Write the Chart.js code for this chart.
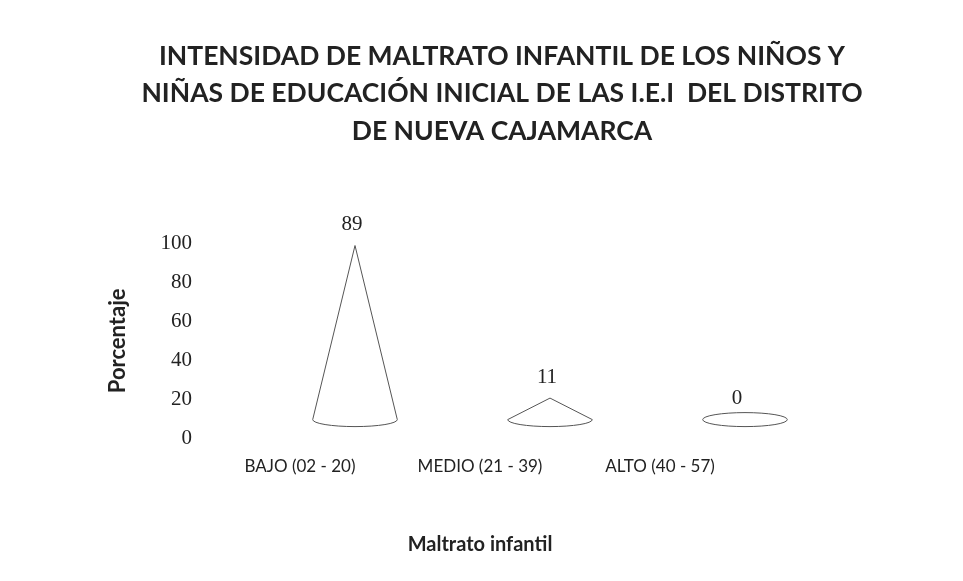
<!DOCTYPE html>
<html lang="es">
<head>
<meta charset="UTF-8">
<title>Intensidad de maltrato infantil</title>
<style>
    body { margin: 0; background: #fff; }
    #wrap { width: 963px; height: 581px; }
</style>
</head>
<body>
<div id="wrap"><canvas id="chart" width="963" height="581"></canvas></div>
<script src="https://cdn.jsdelivr.net/npm/chart.js"></script>
<script>
const categories = ['BAJO (02 - 20)', 'MEDIO (21 - 39)', 'ALTO (40 - 57)'];
const porcentaje = [89, 11, 0];
const yTicks = [0, 20, 40, 60, 80, 100];

const titleLines = [
    'INTENSIDAD DE MALTRATO INFANTIL DE LOS NIÑOS Y',
    'NIÑAS DE EDUCACIÓN INICIAL DE LAS I.E.I  DEL DISTRITO',
    'DE NUEVA CAJAMARCA'
];

// title is centred on the page, not on the plot, so draw it by hand
const titlePlugin = {
    id: 'pageTitle',
    afterDraw(chart) {
        const ctx = chart.ctx;
        ctx.save();
        ctx.fillStyle = '#222';
        ctx.font = 'bold 26.5px Lato';
        ctx.textAlign = 'center';
        ctx.textBaseline = 'middle';
        titleLines.forEach((t, i) => ctx.fillText(t, 502, 56 + i * 37.5));
        ctx.restore();
    }
};

// cones drawn on top of (invisible) bars, shifted like a 3D depth
const conePlugin = {
    id: 'cones',
    afterDatasetsDraw(chart) {
        const ctx = chart.ctx;
        const meta = chart.getDatasetMeta(0);
        const dy = -19, ry = 7;
        ctx.save();
        meta.data.forEach((bar, i) => {
            const p = bar.getProps(['x', 'y', 'base', 'width'], true);
            const dx = 55 + i * 15;
            const cx = p.x + dx;
            const by = p.base + dy;
            const ay = p.y + dy;
            const rx = p.width / 2;
            ctx.lineWidth = 1;
            ctx.strokeStyle = '#555';
            ctx.fillStyle = '#fff';
            if (by - ay > ry + 2) {
                ctx.beginPath();
                ctx.moveTo(cx - rx, by);
                ctx.lineTo(cx, ay);
                ctx.lineTo(cx + rx, by);
                ctx.ellipse(cx, by, rx, ry, 0, 0, Math.PI, false);
                ctx.closePath();
                ctx.fill();
                ctx.stroke();
            } else {
                ctx.beginPath();
                ctx.ellipse(cx, by, rx, ry, 0, 0, Math.PI * 2);
                ctx.fill();
                ctx.stroke();
            }
            ctx.fillStyle = '#222';
            ctx.font = '21px "Liberation Serif"';
            ctx.textAlign = 'center';
            ctx.textBaseline = 'middle';
            const lx = porcentaje[i] === 0 ? cx - 8 : cx - 3;
            ctx.fillText(String(porcentaje[i]), lx, ay - 21);
        });
        ctx.restore();
    }
};

new Chart(document.getElementById('chart'), {
    type: 'bar',
    data: {
        labels: categories,
        datasets: [{
            label: 'Porcentaje',
            data: porcentaje,
            backgroundColor: 'rgba(0,0,0,0)',
            borderWidth: 0,
            categoryPercentage: 1,
            barPercentage: 0.47
        }]
    },
    options: {
        responsive: false,
        animation: false,
        layout: { padding: { left: 105, right: 213, top: 243, bottom: 24 } },
        plugins: {
            legend: { display: false },
            tooltip: { enabled: false },
            title: { display: false }
        },
        scales: {
            x: {
                grid: { display: false, drawTicks: false },
                border: { display: false },
                ticks: {
                    color: '#222',
                    font: { family: 'Lato', size: 17 },
                    padding: 18
                },
                title: {
                    display: true,
                    text: 'Maltrato infantil',
                    color: '#222',
                    font: { family: 'Lato', size: 20, weight: 'bold' },
                    padding: { top: 38, bottom: 0 }
                }
            },
            y: {
                min: 0,
                max: 100,
                afterBuildTicks(axis) {
                    axis.ticks = yTicks.map(v => ({ value: v }));
                },
                afterFit(axis) {
                    axis.width = 105;
                },
                grid: { display: false, drawTicks: false },
                border: { display: false },
                ticks: {
                    color: '#222',
                    font: { family: 'Liberation Serif', size: 21 },
                    padding: 18
                },
                title: {
                    display: true,
                    text: 'Porcentaje',
                    color: '#222',
                    font: { family: 'Lato', size: 22, weight: 'bold' },
                    padding: { top: 0, bottom: 0 }
                }
            }
        }
    },
    plugins: [conePlugin, titlePlugin]
});
</script>
</body>
</html>
